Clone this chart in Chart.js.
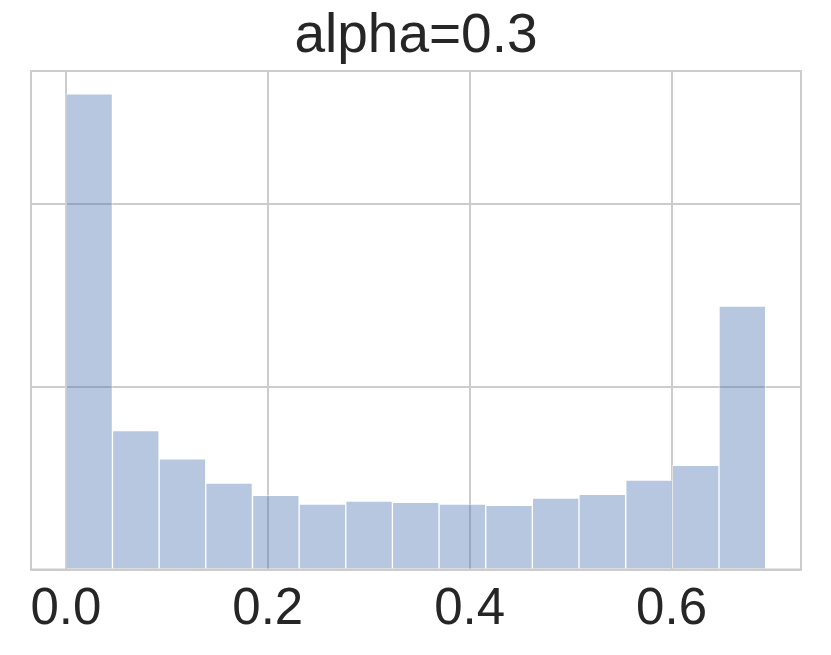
<!DOCTYPE html>
<html lang="en">
<head>
    <meta charset="UTF-8">
    <title>alpha=0.3</title>
    <script src="https://cdn.jsdelivr.net/npm/chart.js"></script>
    <style>
        html, body { margin: 0; padding: 0; background: #fff; }
        #wrap { width: 831px; height: 655px; }
    </style>
</head>
<body>
    <div id="wrap"><canvas id="histChart" width="831" height="655"></canvas></div>

    <script>
        // histogram bins (centres) and heights
        var binCenters = [0.0231, 0.0693, 0.1155, 0.1617, 0.2080, 0.2542, 0.3004, 0.3466,
                          0.3928, 0.4390, 0.4852, 0.5314, 0.5777, 0.6239, 0.6701];
        var binHeights = [5.20, 1.52, 1.21, 0.945, 0.81, 0.716, 0.749, 0.734,
                          0.716, 0.702, 0.781, 0.822, 0.978, 1.139, 2.88];
        var xTicks = [0.0, 0.2, 0.4, 0.6];
        var yTicks = [0, 2, 4];

        var gridColor = '#cccccc';
        var textColor = '#262626';

        // axes frame drawn on top of the bars, like the spines
        var framePlugin = {
            id: 'frame',
            afterDatasetsDraw: function(chart) {
                var a = chart.chartArea, c = chart.ctx;
                c.save();
                c.strokeStyle = gridColor;
                c.lineWidth = 2;
                c.strokeRect(a.left, a.top, a.right - a.left, a.bottom - a.top);
                c.restore();
            }
        };

        var ctx = document.getElementById('histChart').getContext('2d');
        var histChart = new Chart(ctx, {
            type: 'bar',
            data: {
                datasets: [{
                    data: binCenters.map(function(x, i) { return { x: x, y: binHeights[i] }; }),
                    backgroundColor: 'rgba(76,114,176,0.4)',
                    borderColor: 'rgba(255,255,255,0.45)',
                    borderWidth: { top: 1, left: 1, right: 1, bottom: 0 },
                    borderSkipped: false,
                    barPercentage: 1,
                    categoryPercentage: 1
                }]
            },
            options: {
                responsive: false,
                animation: false,
                layout: { padding: { left: 31, right: 30, top: 0, bottom: 0 } },
                plugins: {
                    legend: { display: false },
                    tooltip: { enabled: false },
                    title: {
                        display: true,
                        text: 'alpha=0.3',
                        color: textColor,
                        font: { family: '"Liberation Sans", Arial, sans-serif', size: 55, weight: 'normal', lineHeight: 1.0 },
                        padding: { top: 9, bottom: 7 }
                    }
                },
                scales: {
                    x: {
                        type: 'linear',
                        offset: false,
                        min: -0.0345,
                        max: 0.7282,
                        afterBuildTicks: function(scale) {
                            scale.ticks = xTicks.map(function(v) { return { value: v }; });
                        },
                        afterFit: function(scale) { scale.height = 85.5; },
                        grid: { color: gridColor, lineWidth: 2, drawTicks: false, offset: false },
                        border: { display: false },
                        ticks: {
                            color: textColor,
                            padding: 10,
                            maxRotation: 0,
                            font: { family: '"Liberation Sans", Arial, sans-serif', size: 51 },
                            callback: function(v) { return Number(v).toFixed(1); }
                        }
                    },
                    y: {
                        min: 0,
                        max: 5.45,
                        afterBuildTicks: function(scale) {
                            scale.ticks = yTicks.map(function(v) { return { value: v }; });
                        },
                        afterFit: function(scale) { scale.width = 0; },
                        grid: { color: gridColor, lineWidth: 2, drawTicks: false },
                        border: { display: false },
                        ticks: { display: false }
                    }
                }
            },
            plugins: [framePlugin]
        });
    </script>
</body>
</html>
